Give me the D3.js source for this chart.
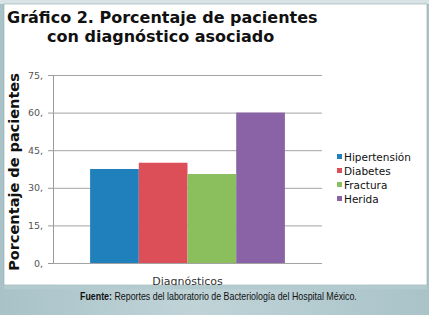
<!DOCTYPE html>
<html>
<head>
<meta charset="utf-8">
<script src="https://cdn.jsdelivr.net/npm/d3@7"></script>
<style>
  html, body { margin: 0; padding: 0; }
  body { width: 429px; height: 315px; overflow: hidden; }
</style>
</head>
<body>
<div id="chart"></div>
<script>
// data
const category = ["Diagnósticos"];
const series = ["Hipertensión", "Diabetes", "Fractura", "Herida"];
const values = [37.5, 40, 35.5, 60];
const colors = ["#1f80bc", "#dc4f59", "#8bbf5e", "#8963a6"];
const tickValues = [0, 15, 30, 45, 60, 75];
const tickLabels = ["0,", "15,", "30,", "45,", "60,", "75,"];

const W = 429, H = 315;
const svg = d3.select("#chart").append("svg").attr("width", W).attr("height", H);

// background gradient and white panel
const defs = svg.append("defs");
const grad = defs.append("linearGradient").attr("id", "bg").attr("x1", 0).attr("y1", 0).attr("x2", 1).attr("y2", 0);
grad.append("stop").attr("offset", "0%").attr("stop-color", "#a8c2c8");
grad.append("stop").attr("offset", "45%").attr("stop-color", "#c0d4d8");
grad.append("stop").attr("offset", "100%").attr("stop-color", "#a9c3c8");
svg.append("rect").attr("width", W).attr("height", H).attr("fill", "url(#bg)");
svg.append("rect").attr("x", 0).attr("y", 0).attr("width", W).attr("height", 4).attr("fill", "#d8e3e5");
svg.append("rect").attr("x", 4).attr("y", 4).attr("width", 423).attr("height", 281)
  .attr("fill", "#ffffff").attr("stroke", "#8fa9ae").attr("stroke-width", 0.6);

// title
const title = svg.append("text").attr("font-family", "DejaVu Sans, Verdana, sans-serif")
  .attr("font-weight", "bold").attr("font-size", 16).attr("fill", "#111");
title.append("tspan").attr("x", 7).attr("y", 23).text("Gráfico 2. Porcentaje de pacientes");
title.append("tspan").attr("x", 47).attr("y", 42).text("con diagnóstico asociado");

// scales
const x = d3.scaleBand().domain(category).range([53, 322]).padding(0.16);
const xs = d3.scaleBand().domain(series).range([0, x.bandwidth()]);
const y = d3.scaleLinear().domain([0, 75]).range([263, 75]);

// grid + axis
const yAxis = svg.append("g").attr("transform", "translate(53,0)")
  .call(d3.axisLeft(y).tickValues(tickValues).tickSize(5).tickPadding(5)
    .tickFormat((d, i) => tickLabels[i]));
yAxis.select(".domain").attr("stroke", "#9a9a9a");
yAxis.selectAll(".tick line").attr("stroke", "#9a9a9a");
yAxis.selectAll(".tick text").attr("font-family", "DejaVu Sans, Verdana, sans-serif")
  .attr("font-size", 9.5).attr("fill", "#555");
svg.append("g").selectAll("line").data(tickValues).join("line")
  .attr("x1", 53).attr("x2", 322)
  .attr("y1", d => y(d) + 0.5).attr("y2", d => y(d) + 0.5)
  .attr("stroke", "#a3a3a3").attr("stroke-width", 1);

// bars
svg.append("g").selectAll("rect").data(series).join("rect")
  .attr("x", d => x(category[0]) + xs(d))
  .attr("y", (d, i) => y(values[i]))
  .attr("width", xs.bandwidth())
  .attr("height", (d, i) => y(0) - y(values[i]))
  .attr("fill", (d, i) => colors[i]);

// x category label
svg.append("text").attr("x", x(category[0]) + x.bandwidth() / 2).attr("y", 284.5)
  .attr("text-anchor", "middle").attr("font-family", "DejaVu Sans, Verdana, sans-serif")
  .attr("font-size", 11).attr("fill", "#333").text(category[0]);
// panel edge covers the descenders of the label
svg.append("rect").attr("x", 4).attr("y", 285.3).attr("width", 423).attr("height", 4).attr("fill", "#b3cacf");

// y title
svg.append("text").attr("transform", "translate(19,172) rotate(-90)")
  .attr("text-anchor", "middle").attr("font-family", "DejaVu Sans, Verdana, sans-serif")
  .attr("font-weight", "bold").attr("font-size", 14.5).attr("fill", "#111")
  .text("Porcentaje de pacientes");

// legend
const lg = svg.append("g").attr("transform", "translate(337,157)");
const item = lg.selectAll("g").data(series).join("g")
  .attr("transform", (d, i) => `translate(0,${i * 14})`);
item.append("rect").attr("x", 0).attr("y", -3).attr("width", 5).attr("height", 5)
  .attr("fill", (d, i) => colors[i]);
item.append("text").attr("x", 7).attr("y", 4)
  .attr("font-family", "DejaVu Sans, Verdana, sans-serif").attr("font-size", 10.5)
  .attr("fill", "#111").text(d => d);

// footer, squeezed horizontally like the narrow font in the original
const footG = svg.append("g");
const foot = footG.append("text").attr("x", 0).attr("y", 0)
  .attr("font-family", "Liberation Sans, Arial, sans-serif").attr("font-size", 10)
  .attr("fill", "#111");
foot.append("tspan").attr("font-weight", "bold").text("Fuente:");
foot.append("tspan").text(" Reportes del laboratorio de Bacteriología del Hospital México.");
const fw = foot.node().getComputedTextLength();
footG.attr("transform", `translate(80,300) scale(${277 / fw},1)`);
</script>
</body>
</html>
